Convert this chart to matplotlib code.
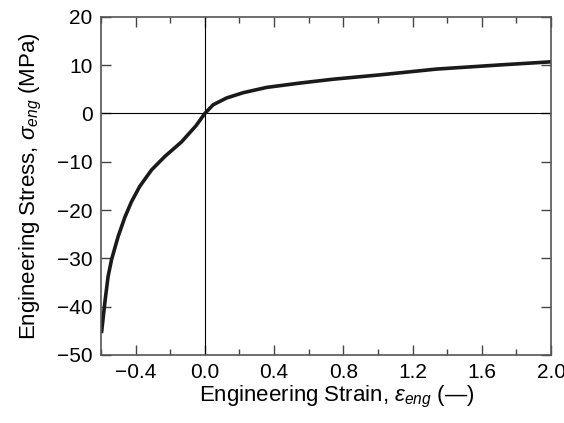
import matplotlib.pyplot as plt
from matplotlib.ticker import MultipleLocator

plt.rcParams['font.family'] = 'Liberation Sans'
plt.rcParams['mathtext.fontset'] = 'custom'
plt.rcParams['mathtext.it'] = 'Liberation Sans:italic'
plt.rcParams['mathtext.rm'] = 'Liberation Sans'

# stress-strain curve
strain = [-0.597, -0.578, -0.559, -0.539, -0.501, -0.462, -0.424, -0.376,
          -0.308, -0.231, -0.135, -0.09, -0.05, -0.02, 0.0, 0.048, 0.125,
          0.221, 0.357, 0.549, 0.742, 1.012, 1.339, 1.724, 2.0]
stress = [-45.5, -39.3, -33.8, -30.3, -25.5, -21.5, -18.3, -15.1,
          -11.7, -8.9, -5.9, -4.1, -2.5, -1.0, 0.0, 1.8, 3.2,
          4.3, 5.4, 6.3, 7.1, 8.0, 9.2, 10.1, 10.7]

fig = plt.figure(figsize=(5.64, 4.23), dpi=100)
ax = fig.add_axes([0.179, 0.161, 0.798, 0.799])

ax.axhline(0, color='black', lw=0.8)
ax.axvline(0, color='black', lw=0.8)
ax.plot(strain, stress, color='#1a1a1a', lw=2.6, solid_capstyle='butt',
        solid_joinstyle='round')

ax.set_xlim(-0.6, 2.0)
ax.set_ylim(-50, 20)
ax.xaxis.set_minor_locator(MultipleLocator(0.2))
ax.yaxis.set_major_locator(MultipleLocator(10))
ax.set_xticks([-0.4, 0.0, 0.4, 0.8, 1.2, 1.6, 2.0])
ax.set_xticklabels(['\u22120.4', '0.0', '0.4', '0.8', '1.2', '1.6', '2.0'])

ax.tick_params(which='both', direction='in', top=True, right=True,
               labelsize=15, pad=6, color='#444444')
ax.tick_params(which='major', length=7, width=1)
ax.tick_params(which='minor', length=4, width=1)
for s in ax.spines.values():
    s.set_color('#555555')
    s.set_linewidth(1.2)

ax.set_xlabel('Engineering Strain, $\\varepsilon_{eng}$ (\u2014)',
              fontsize=16, labelpad=4)
ax.xaxis.set_label_coords(0.525, -0.085)
ax.set_ylabel(r'Engineering Stress, $\sigma_{eng}$ (MPa)', fontsize=16, labelpad=9)

fig.savefig('out.png', dpi=100)
